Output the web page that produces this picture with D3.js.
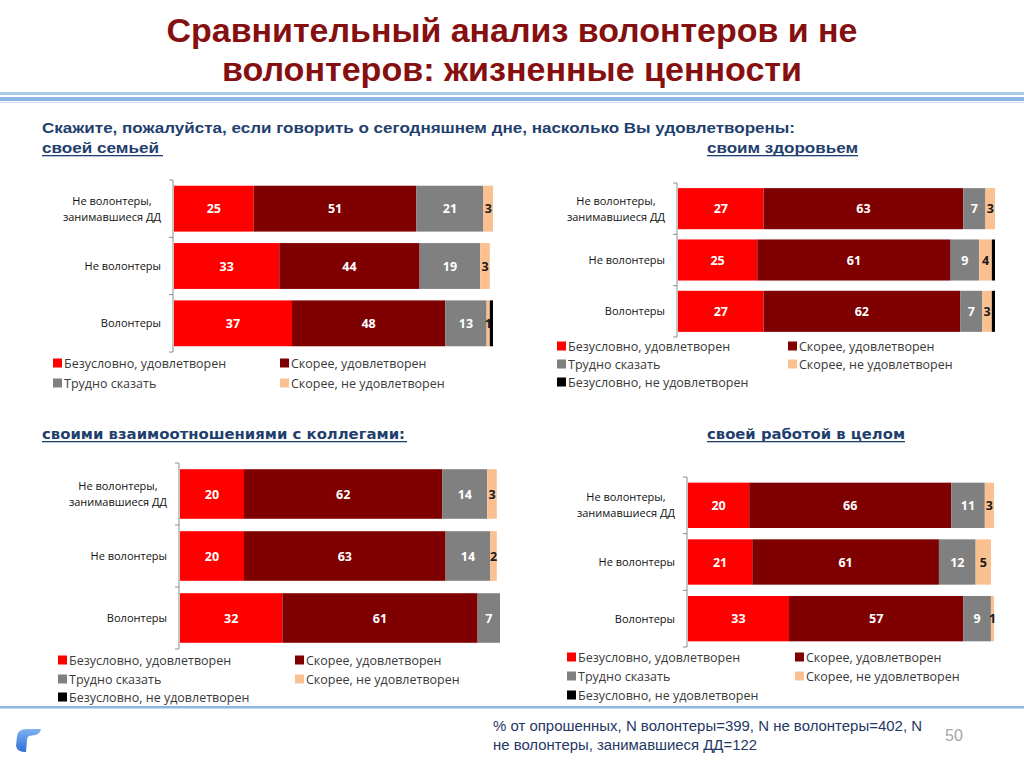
<!DOCTYPE html>
<html>
<head>
<meta charset="utf-8">
<script src="https://cdn.jsdelivr.net/npm/d3@7"></script>
<style>
body { margin: 0; background: #fff; }
svg { display: block; }
</style>
</head>
<body>
<svg id="slide" width="1024" height="768"></svg>
<script>
// categories and series
var categories = ["Не волонтеры,\nзанимавшиеся ДД", "Не волонтеры", "Волонтеры"];
var seriesNames = ["Безусловно, удовлетворен", "Скорее, удовлетворен", "Трудно сказать",
                   "Скорее, не удовлетворен", "Безусловно, не удовлетворен"];
var seriesColors = ["#FF0000", "#7F0000", "#808080", "#FAC090", "#000000"];

// values, one row per category, one column per series (%)
var familyValues     = [[25, 51, 21, 3, 0], [33, 44, 19, 3, 0], [37, 48, 13, 1, 1]];
var healthValues     = [[27, 63, 7, 3, 0],  [25, 61, 9, 4, 1],  [27, 62, 7, 3, 1]];
var colleaguesValues = [[20, 62, 14, 3, 0], [20, 63, 14, 2, 0], [32, 61, 7, 0, 0]];
var workValues       = [[20, 66, 11, 3, 0], [21, 61, 12, 5, 0], [33, 57, 9, 1, 0]];

var svg = d3.select("#slide");
var blue = "#1F3F6E";

// header
svg.append("rect").attr("x", 0).attr("y", 92).attr("width", 1024).attr("height", 3).attr("fill", "#A9CBEC");
svg.append("rect").attr("x", 0).attr("y", 97).attr("width", 1024).attr("height", 4).attr("fill", "#8DB6E4");
svg.append("rect").attr("x", 0).attr("y", 102).attr("width", 1024).attr("height", 1).attr("fill", "#C9DDF2");

var titleLines = [
  {t: "Сравнительный анализ волонтеров и не", y: 42, w: 691},
  {t: "волонтеров: жизненные ценности", y: 81, w: 580}
];
titleLines.forEach(function(l) {
  svg.append("text").attr("x", 512).attr("y", l.y)
    .attr("text-anchor", "middle")
    .attr("textLength", l.w).attr("lengthAdjust", "spacingAndGlyphs")
    .style("font-family", "Liberation Sans, Arial, sans-serif")
    .style("font-weight", "bold").style("font-size", "33px")
    .attr("fill", "#861010").text(l.t);
});

function heading(txt, x, y, w, size, underline, family) {
  svg.append("text").attr("x", x).attr("y", y)
    .attr("textLength", w).attr("lengthAdjust", "spacingAndGlyphs")
    .style("font-family", family || "Liberation Sans, Arial, sans-serif")
    .style("font-weight", "bold").style("font-size", size + "px")
    .attr("fill", blue).text(txt);
  if (underline) {
    svg.append("rect").attr("x", x).attr("y", y + 2).attr("width", underline)
      .attr("height", 1.3).attr("fill", blue);
  }
}
heading("Скажите, пожалуйста, если говорить о сегодняшнем дне, насколько Вы удовлетворены:", 42, 133, 753, 14.5);
heading("своей семьей", 42, 153, 117, 14.5, 121);
heading("своим здоровьем", 707, 153, 151, 14.5, 151);
heading("своими взаимоотношениями с коллегами:", 42, 439, 363, 14.5, 365, "DejaVu Sans, Verdana, sans-serif");
heading("своей работой в целом", 707, 439, 198, 14.5, 198, "DejaVu Sans, Verdana, sans-serif");

// charts
var charts = [
  {values: familyValues, x0: 174, x1: 493, y0: 180, y1: 352, legendCount: 4,
   legendCols: [53, 280], legendRows: [363, 383]},
  {values: healthValues, x0: 678, x1: 995, y0: 183, y1: 337, legendCount: 5,
   legendCols: [557, 788], legendRows: [346, 364, 382]},
  {values: colleaguesValues, x0: 180, x1: 500, y0: 463, y1: 649, legendCount: 5,
   legendCols: [58, 295], legendRows: [660, 679, 697]},
  {values: workValues, x0: 688, x1: 994, y0: 477, y1: 647, legendCount: 5,
   legendCols: [567, 795], legendRows: [657, 676, 695]}
];

charts.forEach(function(c) {
  var g = svg.append("g");
  var x = d3.scaleLinear().domain([0, 100]).range([c.x0, c.x1]);
  var y = d3.scaleBand().domain(categories).range([c.y0, c.y1])
    .paddingInner(0.2).paddingOuter(0.1);

  var rows = c.values.map(function(v, i) {
    var obj = {cat: categories[i]};
    v.forEach(function(d, k) { obj["s" + k] = d; });
    return obj;
  });
  var stack = d3.stack().keys(seriesNames.map(function(s, k) { return "s" + k; }))(rows);

  stack.forEach(function(layer, k) {
    var lg = g.append("g");
    lg.selectAll("rect").data(layer).enter().append("rect")
      .attr("x", function(d) { return x(d[0]); })
      .attr("y", function(d) { return y(d.data.cat); })
      .attr("width", function(d) { return Math.max(0, x(d[1]) - x(d[0])); })
      .attr("height", y.bandwidth())
      .attr("fill", seriesColors[k]);
    if (k < 4) {
      lg.selectAll("text").data(layer.filter(function(d) { return d[1] - d[0] > 0; }))
        .enter().append("text")
        .attr("x", function(d) { return (x(d[0]) + x(d[1])) / 2; })
        .attr("y", function(d) { return y(d.data.cat) + y.bandwidth() / 2 + 4.5; })
        .attr("text-anchor", "middle")
        .style("font-family", "Open Sans, sans-serif")
        .style("font-weight", "bold").style("font-size", "12.5px")
        .attr("fill", k == 3 ? "#1a1a1a" : "#fff")
        .text(function(d) { return d[1] - d[0]; });
    }
  });

  // axis with ticks on category boundaries
  var ax = c.x0 - 1;
  g.append("line").attr("x1", ax).attr("x2", ax).attr("y1", c.y0).attr("y2", c.y1)
    .attr("stroke", "#8c8c8c").attr("stroke-width", 1);
  d3.range(categories.length + 1).forEach(function(i) {
    var ty = c.y0 + i * y.step();
    g.append("line").attr("x1", ax - 4).attr("x2", ax).attr("y1", ty).attr("y2", ty)
      .attr("stroke", "#8c8c8c").attr("stroke-width", 1);
  });

  // category labels
  categories.forEach(function(cat) {
    var lines = cat.split("\n");
    var cy = y(cat) + y.bandwidth() / 2;
    var right = ax - 12;
    var texts = lines.map(function(l, j) {
      return g.append("text")
        .attr("y", cy + (j - (lines.length - 1) / 2) * 16 + 4)
        .style("font-family", "Open Sans, sans-serif").style("font-size", "11px")
        .attr("fill", "#111").text(l);
    });
    var widest = d3.max(texts, function(t) { return t.node().getComputedTextLength(); });
    texts.forEach(function(t) {
      t.attr("x", right - widest / 2).attr("text-anchor", "middle");
    });
  });

  // legend
  seriesNames.slice(0, c.legendCount).forEach(function(name, k) {
    var lx = c.legendCols[k % 2], ly = c.legendRows[Math.floor(k / 2)];
    g.append("rect").attr("x", lx).attr("y", ly - 4.5).attr("width", 9).attr("height", 9)
      .attr("fill", seriesColors[k]);
    g.append("text").attr("x", lx + 11).attr("y", ly + 4.5)
      .style("font-family", "Open Sans, sans-serif").style("font-size", "12.5px")
      .attr("fill", "#3a3a3a").text(name);
  });
});

// footer
svg.append("rect").attr("x", 0).attr("y", 706).attr("width", 1024).attr("height", 2.5).attr("fill", "#8DB6E4");
svg.append("text").attr("x", 493).attr("y", 731)
  .attr("textLength", 429).attr("lengthAdjust", "spacingAndGlyphs")
  .style("font-family", "Liberation Sans, Arial, sans-serif").style("font-size", "14px")
  .attr("fill", "#1F3864").text("% от опрошенных, N волонтеры=399, N не волонтеры=402, N");
svg.append("text").attr("x", 493).attr("y", 750)
  .attr("textLength", 264).attr("lengthAdjust", "spacingAndGlyphs")
  .style("font-family", "Liberation Sans, Arial, sans-serif").style("font-size", "14px")
  .attr("fill", "#1F3864").text("не волонтеры, занимавшиеся ДД=122");
svg.append("text").attr("x", 945).attr("y", 741)
  .style("font-family", "Liberation Sans, Arial, sans-serif").style("font-size", "16px")
  .attr("fill", "#A6A6A6").text("50");

// logo
var grad = svg.append("defs").append("linearGradient").attr("id", "lg")
  .attr("x1", 0).attr("y1", 0).attr("x2", 0).attr("y2", 1);
grad.append("stop").attr("offset", 0).attr("stop-color", "#7FB2F0");
grad.append("stop").attr("offset", 1).attr("stop-color", "#2F6FD8");
svg.append("path")
  .attr("d", "M17,736 Q18,729 27,729 L41,729 Q40,734 35,735 L29,736 Q27,737 27,740 L26,752 Q17,752 16,746 Z")
  .attr("fill", "url(#lg)");
</script>
</body>
</html>
